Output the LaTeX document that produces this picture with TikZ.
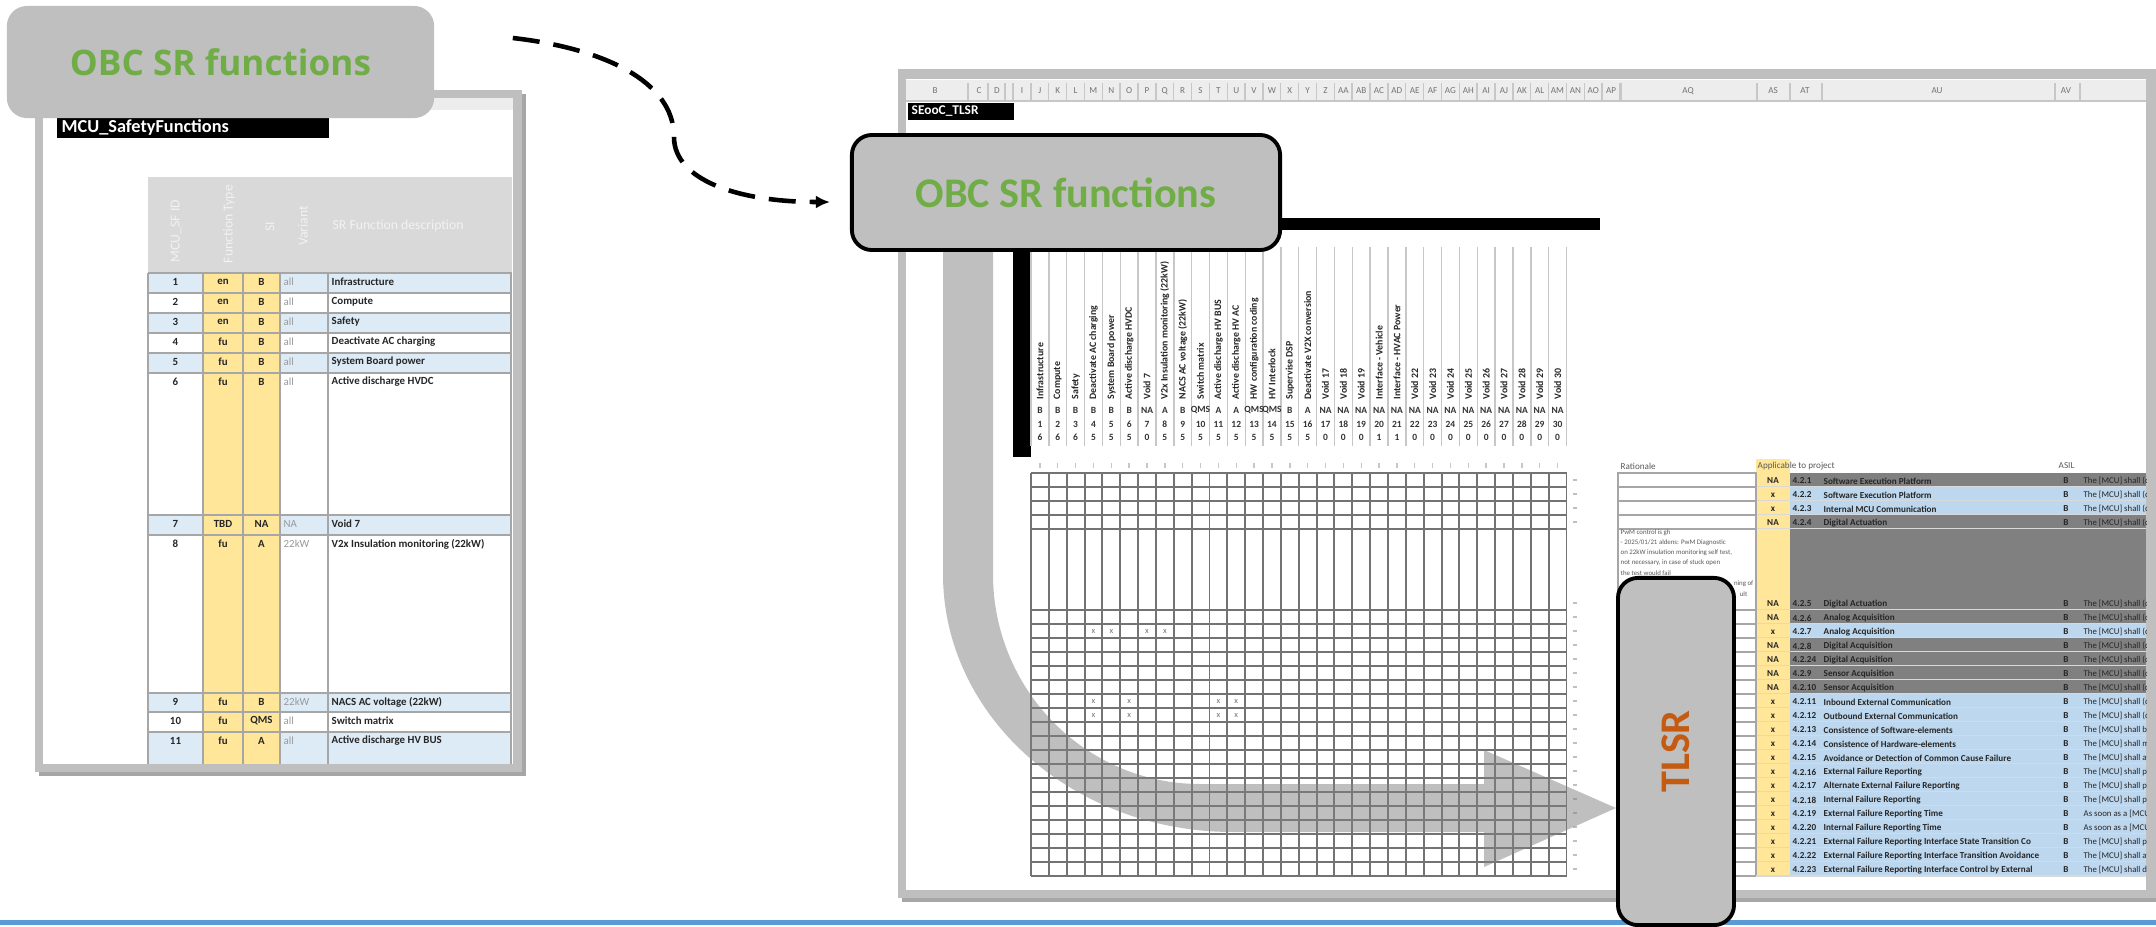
\documentclass[tikz,border=0pt]{standalone}
\usepackage{fontspec}
\setmainfont{Carlito}
\newfontfamily\titlesans{Open Sans}
\usetikzlibrary{arrows.meta,shadows,calc}

\definecolor{boxgray}{HTML}{BFBFBF}
\definecolor{obcgreen}{HTML}{70AD47}
\definecolor{tlsrorange}{HTML}{C55A11}
\definecolor{hdrgray}{HTML}{D9D9D9}
\definecolor{rowblue}{HTML}{DDEBF7}
\definecolor{reqblue}{HTML}{BDD7EE}
\definecolor{celly}{HTML}{FFE699}
\definecolor{reqgray}{HTML}{808080}
\definecolor{rulegray}{HTML}{A6A6A6}
\definecolor{lineblue}{HTML}{5B9BD5}
\definecolor{stripgray}{HTML}{EDEDED}

\newcommand\sheetsize[1]{\fontsize{#1}{#1}\selectfont}

\begin{document}
\begin{tikzpicture}[x=0.01cm,y=-0.01cm,
  sheetframe/.style={fill=boxgray,
    drop shadow={shadow xshift=1.2pt,shadow yshift=-1.2pt,opacity=0.35,fill=black}},
  callout/.style={fill=boxgray, rounded corners=0.2cm, inner sep=0pt, align=center},
  calloutline/.style={callout, draw=black, line width=1.1pt},
  rule/.style={draw=rulegray, line width=0.5pt},
  gridrule/.style={draw=black!55, line width=0.55pt},
  sepline/.style={draw=black!22, line width=0.4pt},
  cellc/.style={inner sep=0pt, anchor=center, text=black!85, font=\bfseries\sheetsize{3.1}},
  celll/.style={inner sep=0pt, anchor=west, text=black!85, font=\bfseries\sheetsize{3.1}},
  cellvar/.style={inner sep=0pt, anchor=west, text=black!40, font=\sheetsize{3.1}},
  hdrtext/.style={inner sep=0pt, text=white!95!black, font=\sheetsize{3.9}},
  colletter/.style={inner sep=0pt, text=black!55, font=\sheetsize{2.6}},
  fnname/.style={inner sep=0pt, rotate=90, anchor=west, text=black!85, font=\bfseries\sheetsize{2.8}},
  fnval/.style={inner sep=0pt, text=black!80, font=\bfseries\sheetsize{2.7}},
  reqtext/.style={inner sep=0pt, anchor=west, text=black!85, font=\bfseries\sheetsize{2.6}},
  reqmid/.style={inner sep=0pt, text=black!85, font=\bfseries\sheetsize{2.6}},
  ratext/.style={inner sep=0pt, anchor=west, text=black!65, font=\sheetsize{1.95}},
  xmark/.style={inner sep=0pt, text=black!55, font=\sheetsize{2.4}},
  flowarrow/.style={dashed, dash pattern=on 0.27cm off 0.14cm, line width=1.3pt,
    -{Latex[length=0.14cm,width=0.13cm]}}
]
\useasboundingbox (0,0) rectangle (2156,927);
\fill[white] (0,0) rectangle (2156,927);

% bottom rule of the slide
\fill[lineblue] (0,920) rectangle (2156,925);

% ---------------- left sheet: MCU safety functions ----------------
\path[sheetframe] (35,90) rectangle (522,772);
\fill[white] (43,98) rectangle (513,764);
\fill[stripgray] (43,98) rectangle (513,110);
\fill[black] (57,118) rectangle (329,138);
\node[inner sep=0pt, anchor=west, text=white, font=\bfseries\sheetsize{5.2}] (mcutitle) at (61,128) {MCU\_SafetyFunctions};

% table header
\fill[hdrgray] (148,177) rectangle (512,272);
\node[hdrtext, rotate=90] (lh1) at (176,231) {MCU\_SF ID};
\node[hdrtext, rotate=90] (lh2) at (229,224) {Function Type};
\node[hdrtext, rotate=90] (lh3) at (270,227) {SI};
\node[hdrtext, rotate=90] (lh4) at (303,226) {Variant};
\node[hdrtext, anchor=west] (lh5) at (332,226) {SR Function description};

% table body
\foreach \t/\b/\c in {273/293/rowblue, 293/313/white, 313/333/rowblue, 333/353/white,
  353/373/rowblue, 373/515/white, 515/535/rowblue, 535/693/white, 693/712/rowblue,
  712/732/white, 732/764/rowblue}
  \fill[\c] (148,\t) rectangle (512,\b);
\fill[celly] (203,273) rectangle (280,764);
\foreach \y in {273,293,313,333,353,373,515,535,693,712,732}
  \draw[rule] (148,\y) -- (512,\y);
\foreach \x in {148,203,243,280,328,511}
  \draw[rule] (\x,273) -- (\x,764);
\foreach \y/\id/\ty/\si/\va/\de in {282/1/en/B/all/Infrastructure, 302/2/en/B/all/Compute,
  322/3/en/B/all/Safety, 342/4/fu/B/all/Deactivate AC charging,
  362/5/fu/B/all/System Board power, 382/6/fu/B/all/Active discharge HVDC,
  524/7/TBD/NA/NA/Void 7, 544/8/fu/A/22kW/V2x Insulation monitoring (22kW),
  702/9/fu/B/22kW/NACS AC voltage (22kW), 721/10/fu/QMS/all/Switch matrix,
  741/11/fu/A/all/Active discharge HV BUS}{
  \node[cellc] (lid\id) at (175.5,\y) {\id};
  \node[cellc] (lty\id) at (223,\y) {\ty};
  \node[cellc] (lsi\id) at (261.5,\y) {\si};
  \node[cellvar] (lva\id) at (283,\y) {\va};
  \node[celll] (lde\id) at (331,\y) {\de};
}

% ---------------- right sheet: SEooC TLSR ----------------
\path[sheetframe] (898,69) rectangle (2160,898);
\fill[white] (906,79) rectangle (2146,890);
\fill[stripgray] (906,80) rectangle (2146,101);
\draw[sepline] (906,101) -- (2146,101);
\foreach \x/\l in {935/B, 979/C, 997/D, 1688/AQ, 1773/AS, 1805/AT, 1937/AU, 2066/AV}
  \node[colletter] (col\l) at (\x,91) {\l};
\foreach \k/\l in {0/I,1/J,2/K,3/L,4/M,5/N,6/O,7/P,8/Q,9/R,10/S,11/T,12/U,13/V,14/W,15/X,
  16/Y,17/Z,18/AA,19/AB,20/AC,21/AD,22/AE,23/AF,24/AG,25/AH,26/AI,27/AJ,28/AK,29/AL,
  30/AM,31/AN,32/AO,33/AP}
  \node[colletter] (col\l) at ({1022+\k*17.85},91) {\l};
\foreach \x in {968,988,1005,1621,1757,1790,1822,2055,2080}
  \draw[sepline] (\x,83) -- (\x,100);
\foreach \k in {0,...,34}
  \draw[sepline] ({1013+\k*17.85},83) -- ({1013+\k*17.85},100);

\fill[black] (908,103) rectangle (1014,120);
\node[inner sep=0pt, anchor=west, text=white, font=\bfseries\sheetsize{3.8}] (sheetname) at (911,111.5) {SEooC\_TLSR};

% black header frame of the matrix
\fill[black] (1013,218) rectangle (1600,230);
\fill[black] (1013,218) rectangle (1031,457);

% function header columns
\foreach \k in {0,...,30}
  \draw[sepline] ({1031+\k*17.85},247) -- ({1031+\k*17.85},446);
\foreach \k/\name/\si/\cnt in {1/Infrastructure/B/6, 2/Compute/B/6, 3/Safety/B/6,
  4/Deactivate AC charging/B/5, 5/System Board power/B/5, 6/Active discharge HVDC/B/5,
  7/Void 7/NA/0, 8/V2x Insulation monitoring (22kW)/A/5, 9/NACS AC voltage (22kW)/B/5,
  10/Switch matrix/QMS/5, 11/Active discharge HV BUS/A/5, 12/Active discharge HV AC/A/5,
  13/HW configuration coding/QMS/5, 14/HV Interlock/QMS/5, 15/Supervise DSP/B/5,
  16/Deactivate V2X conversion/A/5, 17/Void 17/NA/0, 18/Void 18/NA/0, 19/Void 19/NA/0,
  20/Interface - Vehicle/NA/1, 21/Interface - HVAC Power/NA/1, 22/Void 22/NA/0,
  23/Void 23/NA/0, 24/Void 24/NA/0, 25/Void 25/NA/0, 26/Void 26/NA/0, 27/Void 27/NA/0,
  28/Void 28/NA/0, 29/Void 29/NA/0, 30/Void 30/NA/0}{
  \node[fnname] (fn\k) at ({1031+(\k-0.5)*17.85},400) {\name};
  \node[fnval] (fsi\k) at ({1031+(\k-0.5)*17.85},410) {\si};
  \node[fnval] (fno\k) at ({1031+(\k-0.5)*17.85},424) {\k};
  \node[fnval] (fct\k) at ({1031+(\k-0.5)*17.85},437) {\cnt};
  \draw[sepline] ({1031+(\k-0.5)*17.85},463) -- ({1031+(\k-0.5)*17.85},468);
}

% allocation matrix
\foreach \k in {0,...,30}
  \draw[gridrule] ({1031+\k*17.85},473) -- ({1031+\k*17.85},876);
\foreach \y in {473,487,501,515,529,610,624,...,876}{
  \draw[gridrule] (1031,\y) -- (1566.5,\y);
}
\foreach \y in {480,494,508,522,603,617,...,869}
  \draw[draw=black!25, line width=0.4pt] (1573,\y) -- (1577,\y);
\foreach \c/\y [count=\n] in {4/631, 5/631, 7/631, 8/631, 4/701, 6/701, 11/701, 12/701,
  4/715, 6/715, 11/715, 12/715}
  \node[xmark] (xm\n) at ({1031+(\c-0.5)*17.85},\y) {x};

% requirement table
\fill[celly] (1756,459) rectangle (1790,473);
\node[ratext, font=\sheetsize{2.6}] (hrat) at (1620,466) {Rationale};
\node[ratext, font=\sheetsize{2.6}] (happ) at (1757,466) {Applicable to project};
\node[ratext, font=\sheetsize{2.6}] (hasil) at (2058,466) {ASIL};
\begin{scope}
\clip (906,79) rectangle (2146,890);
\foreach \t/\b/\id/\ttl/\ap/\fc/\ds in {
  473/487/4.2.1/Software Execution Platform/NA/reqgray/{The [MCU] shall (d},
  487/501/4.2.2/Software Execution Platform/x/reqblue/{The [MCU] shall (d},
  501/515/4.2.3/Internal MCU Communication/x/reqblue/{The [MCU] shall (d},
  515/529/4.2.4/Digital Actuation/NA/reqgray/{The [MCU] shall (d},
  529/610/4.2.5/Digital Actuation/NA/reqgray/{The [MCU] shall (d},
  610/624/4.2.6/Analog Acquisition/NA/reqgray/{The [MCU] shall (d},
  624/638/4.2.7/Analog Acquisition/x/reqblue/{The [MCU] shall (d},
  638/652/4.2.8/Digital Acquisition/NA/reqgray/{The [MCU] shall (d},
  652/666/4.2.24/Digital Acquisition/NA/reqgray/{The [MCU] shall (d},
  666/680/4.2.9/Sensor Acquisition/NA/reqgray/{The [MCU] shall (d},
  680/694/4.2.10/Sensor Acquisition/NA/reqgray/{The [MCU] shall (d},
  694/708/4.2.11/Inbound External Communication/x/reqblue/{The [MCU] shall (d},
  708/722/4.2.12/Outbound External Communication/x/reqblue/{The [MCU] shall (d},
  722/736/4.2.13/Consistence of Software-elements/x/reqblue/{The [MCU] shall be},
  736/750/4.2.14/Consistence of Hardware-elements/x/reqblue/{The [MCU] shall mg},
  750/764/4.2.15/Avoidance or Detection of Common Cause Failure/x/reqblue/{The [MCU] shall av},
  764/778/4.2.16/External Failure Reporting/x/reqblue/{The [MCU] shall pr},
  778/792/4.2.17/Alternate External Failure Reporting/x/reqblue/{The [MCU] shall pr},
  792/806/4.2.18/Internal Failure Reporting/x/reqblue/{The [MCU] shall pr},
  806/820/4.2.19/External Failure Reporting Time/x/reqblue/{As soon as a [MCU]},
  820/834/4.2.20/Internal Failure Reporting Time/x/reqblue/{As soon as a [MCU]},
  834/848/4.2.21/External Failure Reporting Interface State Transition Co/x/reqblue/{The [MCU] shall pr},
  848/862/4.2.22/External Failure Reporting Interface Transition Avoidance/x/reqblue/{The [MCU] shall av},
  862/876/4.2.23/External Failure Reporting Interface Control by External/x/reqblue/{The [MCU] shall di}}{
  \fill[\fc] (1790,\t) rectangle (2146,\b);
  \fill[celly] (1756,\t) rectangle (1790,\b);
  \draw[rule] (1618,\t) rectangle (1756,\b);
  \draw[draw=black!15, line width=0.3pt] (1756,\b) -- (2146,\b);
  \node[reqmid] (ap\id) at (1773,{\b-6}) {\ap};
  \node[reqtext] (rid\id) at (1792,{\b-6}) {\id};
  \node[reqtext] (rtt\id) at (1823,{\b-6}) {\ttl};
  \node[reqmid] (ras\id) at (2066,{\b-6}) {B};
  \node[reqtext, font=\sheetsize{2.5}] (rds\id) at (2083,{\b-6}) {\ds};
}
\end{scope}
\node[ratext] (ra1) at (1620,533) {PwM control is gh};
\node[ratext] (ra2) at (1620,543) {- 2025/01/21 aldens: PwM Diagnostic};
\node[ratext] (ra3) at (1620,553) {on 22kW insulation monitoring self test,};
\node[ratext] (ra4) at (1620,563) {not necessary, in case of stuck open};
\node[ratext] (ra5) at (1620,573) {the test would fail};
\node[ratext, anchor=east] (ra6) at (1754,584) {ning of};
\node[ratext, anchor=east] (ra7) at (1748,594) {ult};

% ---------------- flow from functions to requirements ----------------
\fill[gray, opacity=0.5] (943,245) -- (943,574)
  .. controls (943,{574+0.5523*258}) and ({1233-0.5523*290},832) .. (1233,832)
  -- (1484,832) -- (1484,867) -- (1616,808) -- (1484,750) -- (1484,784) -- (1200,784)
  .. controls ({1200-0.5523*207},784) and (993,{574+0.5523*210}) .. (993,574)
  -- (993,245) -- cycle;

% ---------------- callouts ----------------
\node[callout, minimum width=4.27cm, minimum height=1.12cm, text=obcgreen,
  font=\titlesans\bfseries\fontsize{10}{12}\selectfont] (obcL) at (220.5,62) {OBC SR functions};
\node[calloutline, minimum width=4.28cm, minimum height=1.15cm, text=obcgreen,
  font=\bfseries\fontsize{12}{14}\selectfont] (obcR) at (1066,192.5) {OBC SR functions};
\node[calloutline, rotate=90, minimum width=3.47cm, minimum height=1.16cm, text=tlsrorange,
  font=\bfseries\fontsize{12}{14}\selectfont] (tlsr) at (1676,751.5) {TLSR};

\coordinate (dbend) at (674,137);
\draw[flowarrow] ($(obcL.east)+(78,-24)$) .. controls +(88,10) and +(0,-57) .. (dbend)
  .. controls +(0,43) and +(-92,0) .. ($(obcR.west)+(-20,9.5)$);
\end{tikzpicture}
\end{document}
